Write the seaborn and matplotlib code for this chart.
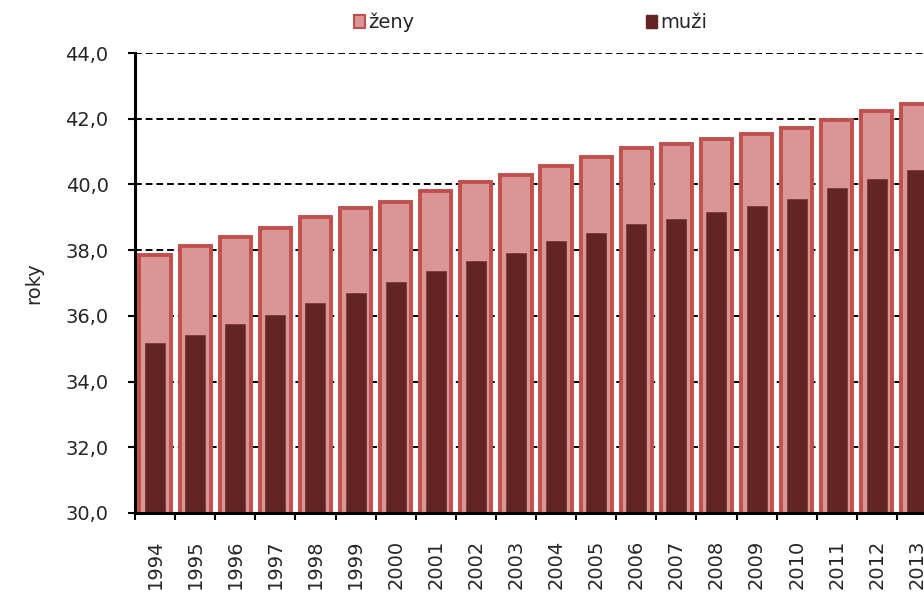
import numpy as np
import pandas as pd
import matplotlib
matplotlib.use('Agg')
import matplotlib.pyplot as plt
import matplotlib.patches as mpatches
from matplotlib.ticker import FuncFormatter, FixedLocator
import seaborn as sns

# -- data (average age, years)
years = [str(y) for y in range(1994, 2014)]
zeny = [37.85, 38.13, 38.40, 38.66, 39.00, 39.27, 39.46, 39.81, 40.07, 40.30,
        40.56, 40.83, 41.11, 41.24, 41.38, 41.52, 41.71, 41.96, 42.25, 42.46]
muzi = [35.16, 35.43, 35.76, 36.03, 36.38, 36.70, 37.04, 37.38, 37.66, 37.92,
        38.27, 38.53, 38.80, 38.95, 39.15, 39.34, 39.56, 39.89, 40.16, 40.44]

df = pd.DataFrame({'rok': years, 'zeny': zeny, 'muzi': muzi})

sns.set_style('white')
plt.rcParams['font.family'] = ['DejaVu Sans']

c_fill = '#D99694'
c_edge = '#C0504D'
c_men = '#632523'
fs = 14

fig = plt.figure(figsize=(9.24, 5.93), dpi=100)
ax = fig.add_axes([135 / 924, 80 / 593, 802 / 924, 460 / 593])

sns.barplot(data=df, x='rok', y='zeny', color=c_fill, saturation=1,
            width=0.78, edgecolor=c_edge, linewidth=2.8, ax=ax, zorder=2)
sns.barplot(data=df, x='rok', y='muzi', color=c_men, saturation=1,
            width=0.5, edgecolor='#7a3a38', linewidth=0.6, ax=ax, zorder=3)

ax.set_ylim(30, 44)
ax.set_xlim(-0.5, len(years) - 0.5)
ax.set_yticks(np.arange(30, 44.1, 2))
ax.yaxis.set_major_formatter(FuncFormatter(lambda v, p: f'{v:.1f}'.replace('.', ',')))
ax.grid(axis='y', color='black', linestyle=(0, (3.5, 2)), linewidth=1.4, zorder=0)
ax.set_axisbelow(True)

# ticks between categories, labels at centres
ax.xaxis.set_minor_locator(FixedLocator(np.arange(-0.5, len(years), 1)))
ax.tick_params(axis='x', which='major', length=0, labelrotation=90, labelsize=fs, pad=19)
ax.tick_params(axis='x', which='minor', length=5, width=1.5, color='black', direction='out', bottom=True)
ax.tick_params(axis='y', length=5, width=1.5, color='black', direction='out', left=True,
               labelsize=fs, pad=14)

for s in ['top', 'right']:
    ax.spines[s].set_visible(False)
for s in ['left', 'bottom']:
    ax.spines[s].set_color('black')
    ax.spines[s].set_linewidth(2.2)
    ax.spines[s].set_zorder(5)

ax.set_xlabel('')
ax.set_ylabel('roky', fontsize=fs, labelpad=16)

handles = [mpatches.Patch(facecolor=c_fill, edgecolor=c_edge, linewidth=1.5),
           mpatches.Patch(facecolor=c_men, edgecolor=c_men)]
fig.legend(handles, ['ženy', 'muži'], loc='center', bbox_to_anchor=(0.574, 0.962),
           ncol=2, frameon=False, fontsize=fs, handlelength=0.6, handleheight=0.7,
           handletextpad=0.15, columnspacing=11.9)

fig.savefig('out.png', dpi=100)
